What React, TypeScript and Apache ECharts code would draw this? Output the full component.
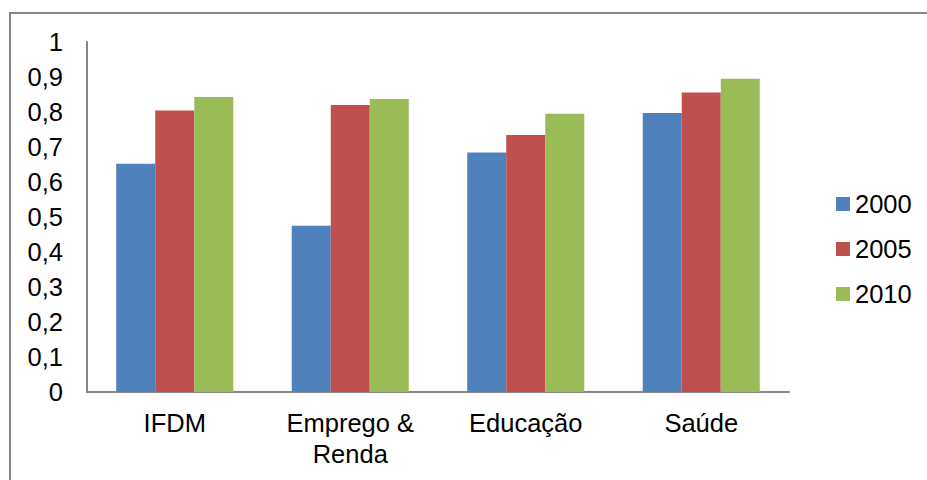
import React, { useEffect, useRef } from "react";
import * as echarts from "echarts";

const categories = ["IFDM", "Emprego & Renda", "Educação", "Saúde"];
const seriesNames = ["2000", "2005", "2010"];
const values2000 = [0.652, 0.475, 0.684, 0.797];
const values2005 = [0.804, 0.82, 0.734, 0.856];
const values2010 = [0.843, 0.837, 0.795, 0.895];
const colors = ["#4F81BD", "#C0504D", "#9BBB59"];

const FONT = "'Liberation Sans', Arial, sans-serif";

export default function App() {
  const ref = useRef<HTMLDivElement>(null);
  useEffect(() => {
    if (!ref.current) return;
    const chart = echarts.init(ref.current, undefined, { renderer: "svg" });
    const data = [values2000, values2005, values2010];
    chart.setOption({
      animation: false,
      backgroundColor: "#ffffff",
      textStyle: { fontFamily: FONT },
      graphic: [
        {
          type: "rect",
          shape: { x: 10, y: 13, width: 1000, height: 600 },
          style: { fill: "none", stroke: "#868686", lineWidth: 2 },
          silent: true,
          z: -1,
        },
      ],
      grid: { left: 87, top: 42, right: 138, bottom: 88, containLabel: false },
      legend: {
        orient: "vertical",
        left: 831,
        top: 186,
        itemWidth: 14,
        itemHeight: 14,
        itemGap: 19,
        icon: "rect",
        textStyle: { fontSize: 25.5, color: "#000", fontFamily: FONT, lineHeight: 26 },
        data: seriesNames,
      },
      xAxis: {
        type: "category",
        data: categories,
        axisLine: { show: true, lineStyle: { color: "#868686", width: 2 } },
        axisTick: { show: false },
        axisLabel: {
          fontSize: 25.5,
          color: "#000",
          fontFamily: FONT,
          margin: 15,
          lineHeight: 31,
          interval: 0,
          formatter: (v: string) => v.replace("& ", "&\n"),
        },
      },
      yAxis: {
        type: "value",
        min: 0,
        max: 1,
        interval: 0.1,
        splitLine: { show: false },
        axisLine: { show: true, lineStyle: { color: "#868686", width: 2 } },
        axisTick: { show: false },
        axisLabel: {
          fontSize: 25.5,
          color: "#000",
          fontFamily: FONT,
          margin: 24,
          formatter: (v: number) =>
            v === 0 || v === 1 ? String(v) : v.toFixed(1).replace(".", ","),
        },
      },
      series: seriesNames.map((name, i) => ({
        name,
        type: "bar",
        data: data[i],
        barGap: "0%",
        barCategoryGap: "33.3%",
        itemStyle: { color: colors[i] },
      })),
    });
    return () => chart.dispose();
  }, []);
  return (
    <div
      ref={ref}
      style={{ position: "fixed", left: 0, top: 0, width: 927, height: 480, background: "#fff" }}
    />
  );
}
